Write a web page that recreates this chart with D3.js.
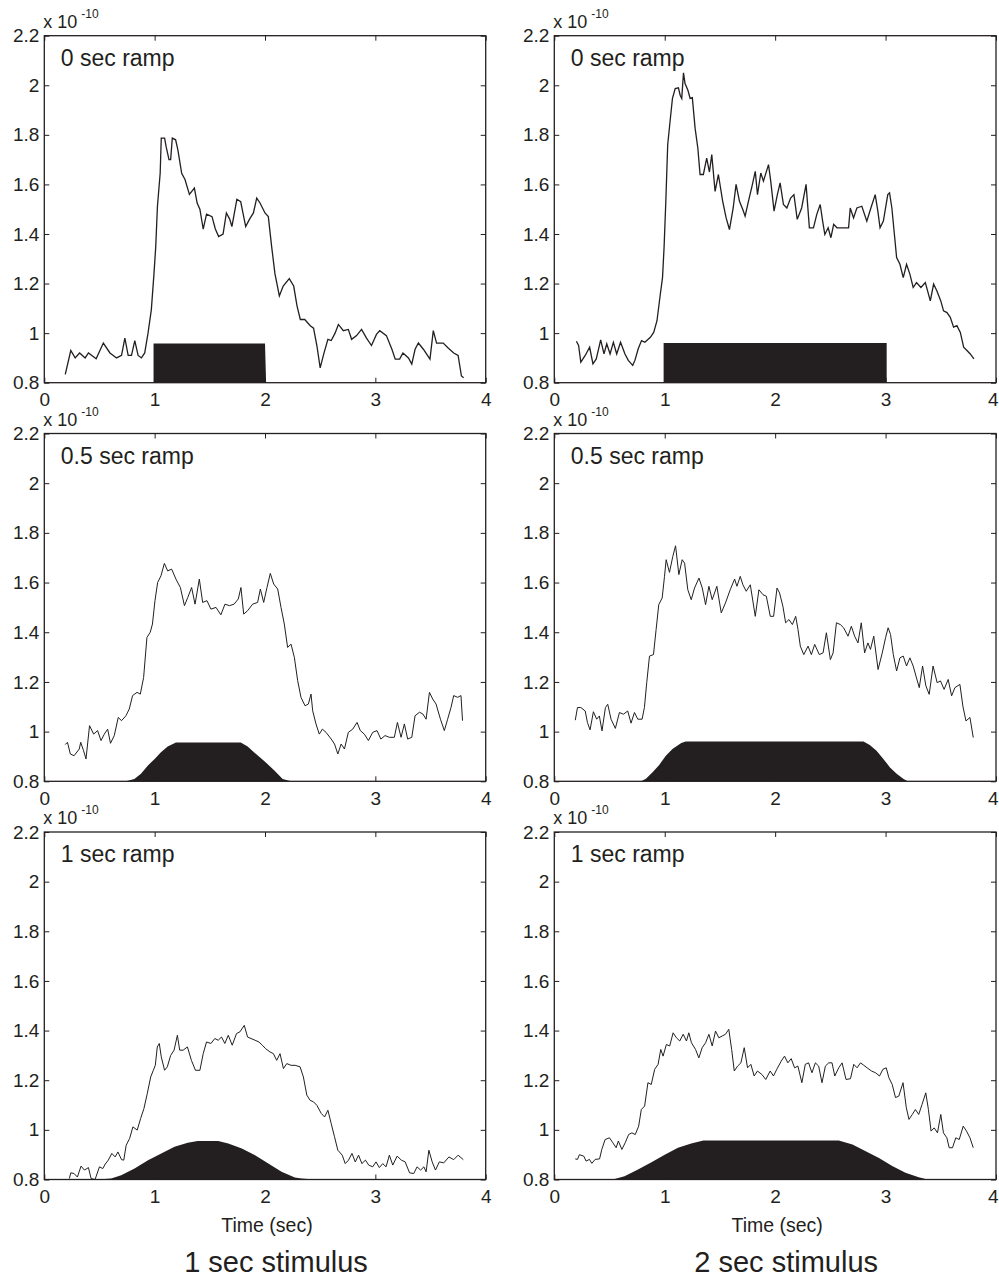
<!DOCTYPE html>
<html>
<head>
<meta charset="utf-8">
<script src="https://cdn.jsdelivr.net/npm/d3@7"></script>
<style>
  html, body { margin: 0; padding: 0; background: #ffffff; }
  svg { display: block; }
  text { font-family: "Liberation Sans", Arial, sans-serif; fill: #231f20; }
</style>
</head>
<body>
<svg id="chart" width="999" height="1279"></svg>
<script>
// ---------------- DATA ----------------
const xTicks = [0, 1, 2, 3, 4];
const xTickLabels = ["0", "1", "2", "3", "4"];
const yTicks = [0.8, 1.0, 1.2, 1.4, 1.6, 1.8, 2.0, 2.2];
const yTickLabels = ["0.8", "1", "1.2", "1.4", "1.6", "1.8", "2", "2.2"];
const scaleNote = "x 10";
const scaleExp = "-10";
const rampLabels = ["0 sec ramp", "0.5 sec ramp", "1 sec ramp"];
const columnTitles = ["1 sec stimulus", "2 sec stimulus"];
const xAxisLabel = "Time (sec)";

// response traces [time (s), value (x1e-10)]
const trace_1s_0ramp = [[0.19,0.834],[0.24,0.93],[0.28,0.90],[0.32,0.92],[0.37,0.90],[0.40,0.92],[0.47,0.897],[0.535,0.96],[0.595,0.92],[0.655,0.90],[0.70,0.91],[0.73,0.98],[0.76,0.91],[0.79,0.91],[0.82,0.97],[0.85,0.91],[0.88,0.90],[0.91,0.92],[0.94,1.0],[0.97,1.095],[0.994,1.24],[1.01,1.35],[1.025,1.51],[1.05,1.645],[1.06,1.787],[1.09,1.787],[1.105,1.75],[1.13,1.70],[1.145,1.70],[1.16,1.787],[1.19,1.78],[1.21,1.74],[1.245,1.645],[1.275,1.62],[1.315,1.56],[1.36,1.585],[1.385,1.525],[1.41,1.50],[1.44,1.42],[1.47,1.48],[1.52,1.47],[1.55,1.42],[1.58,1.39],[1.62,1.40],[1.65,1.485],[1.68,1.46],[1.70,1.43],[1.745,1.54],[1.78,1.53],[1.80,1.485],[1.825,1.43],[1.86,1.46],[1.895,1.485],[1.925,1.545],[1.955,1.525],[2.0,1.485],[2.03,1.47],[2.06,1.35],[2.09,1.24],[2.13,1.15],[2.165,1.19],[2.22,1.22],[2.26,1.19],[2.29,1.11],[2.32,1.055],[2.36,1.055],[2.41,1.03],[2.44,1.02],[2.47,0.95],[2.50,0.86],[2.535,0.92],[2.57,0.975],[2.60,0.97],[2.635,1.0],[2.665,1.035],[2.71,1.01],[2.755,1.015],[2.785,0.975],[2.83,0.99],[2.875,1.015],[2.92,0.98],[2.965,0.95],[3.01,0.995],[3.04,1.01],[3.10,0.99],[3.15,0.935],[3.18,0.895],[3.22,0.895],[3.25,0.92],[3.30,0.90],[3.33,0.875],[3.36,0.935],[3.39,0.96],[3.435,0.935],[3.495,0.895],[3.525,1.01],[3.555,0.96],[3.615,0.96],[3.66,0.94],[3.71,0.92],[3.75,0.91],[3.78,0.827],[3.80,0.82]];

const trace_2s_0ramp = [[0.20,0.967],[0.22,0.95],[0.24,0.883],[0.28,0.91],[0.32,0.943],[0.35,0.876],[0.38,0.896],[0.42,0.973],[0.45,0.916],[0.475,0.957],[0.505,0.916],[0.535,0.963],[0.565,0.916],[0.60,0.963],[0.64,0.916],[0.67,0.89],[0.71,0.87],[0.73,0.89],[0.76,0.937],[0.79,0.97],[0.82,0.963],[0.87,0.983],[0.90,1.003],[0.93,1.05],[0.96,1.157],[0.98,1.224],[0.994,1.345],[1.01,1.532],[1.027,1.76],[1.048,1.853],[1.07,1.947],[1.095,1.987],[1.124,1.99],[1.14,1.96],[1.154,1.947],[1.17,2.05],[1.184,2.007],[1.21,1.98],[1.23,1.947],[1.25,1.95],[1.275,1.827],[1.30,1.746],[1.32,1.64],[1.35,1.64],[1.38,1.706],[1.405,1.65],[1.426,1.72],[1.456,1.572],[1.486,1.64],[1.525,1.532],[1.556,1.465],[1.586,1.418],[1.62,1.505],[1.646,1.60],[1.677,1.532],[1.707,1.499],[1.728,1.472],[1.758,1.532],[1.789,1.59],[1.82,1.653],[1.84,1.559],[1.87,1.646],[1.894,1.613],[1.94,1.68],[1.96,1.613],[1.99,1.492],[2.02,1.559],[2.045,1.606],[2.075,1.519],[2.106,1.505],[2.14,1.545],[2.17,1.559],[2.20,1.459],[2.24,1.505],[2.28,1.60],[2.31,1.425],[2.347,1.425],[2.377,1.479],[2.408,1.519],[2.43,1.452],[2.45,1.398],[2.48,1.425],[2.505,1.385],[2.53,1.439],[2.56,1.425],[2.62,1.425],[2.665,1.425],[2.68,1.505],[2.71,1.465],[2.74,1.505],[2.785,1.512],[2.83,1.452],[2.867,1.505],[2.906,1.559],[2.93,1.492],[2.95,1.425],[2.98,1.452],[3.02,1.559],[3.036,1.566],[3.057,1.505],[3.08,1.398],[3.10,1.305],[3.13,1.278],[3.16,1.224],[3.19,1.278],[3.22,1.238],[3.25,1.184],[3.28,1.204],[3.32,1.184],[3.36,1.204],[3.405,1.13],[3.435,1.198],[3.465,1.17],[3.50,1.13],[3.525,1.09],[3.556,1.083],[3.586,1.064],[3.616,1.024],[3.646,1.03],[3.677,1.003],[3.707,0.943],[3.737,0.93],[3.767,0.916],[3.80,0.896]];

const trace_1s_05ramp = [[0.19,0.948],[0.21,0.957],[0.236,0.91],[0.27,0.903],[0.317,0.93],[0.33,0.957],[0.356,0.923],[0.378,0.89],[0.41,1.024],[0.447,0.99],[0.483,1.004],[0.514,0.964],[0.544,0.99],[0.574,1.01],[0.60,0.953],[0.634,0.984],[0.67,1.057],[0.70,1.044],[0.74,1.064],[0.77,1.091],[0.80,1.145],[0.84,1.158],[0.87,1.151],[0.90,1.218],[0.93,1.379],[0.96,1.40],[0.98,1.433],[1.003,1.527],[1.027,1.60],[1.057,1.627],[1.088,1.677],[1.118,1.647],[1.154,1.654],[1.193,1.614],[1.233,1.58],[1.27,1.507],[1.30,1.54],[1.335,1.58],[1.366,1.513],[1.405,1.614],[1.435,1.52],[1.474,1.527],[1.51,1.493],[1.556,1.50],[1.60,1.47],[1.637,1.513],[1.677,1.507],[1.72,1.513],[1.758,1.534],[1.782,1.58],[1.807,1.473],[1.843,1.487],[1.888,1.513],[1.933,1.52],[1.958,1.574],[1.988,1.52],[2.018,1.58],[2.048,1.637],[2.079,1.594],[2.115,1.574],[2.145,1.50],[2.175,1.433],[2.205,1.339],[2.236,1.352],[2.266,1.299],[2.296,1.205],[2.326,1.138],[2.363,1.104],[2.393,1.111],[2.417,1.151],[2.432,1.084],[2.462,1.031],[2.492,0.99],[2.52,1.01],[2.553,0.997],[2.60,0.97],[2.63,0.95],[2.66,0.91],[2.69,0.95],[2.72,0.93],[2.755,0.997],[2.795,1.01],[2.834,1.037],[2.864,1.004],[2.90,0.99],[2.937,0.964],[2.976,0.997],[3.015,1.004],[3.05,0.97],[3.088,0.984],[3.127,0.977],[3.172,0.977],[3.20,1.037],[3.233,0.977],[3.263,1.031],[3.293,0.97],[3.33,0.977],[3.36,1.064],[3.40,1.078],[3.43,1.071],[3.46,1.05],[3.49,1.158],[3.52,1.131],[3.55,1.111],[3.59,1.05],[3.625,1.004],[3.655,1.05],[3.686,1.098],[3.71,1.145],[3.746,1.138],[3.776,1.145],[3.79,1.044]];

const trace_2s_05ramp = [[0.19,1.046],[0.21,1.097],[0.24,1.097],[0.28,1.083],[0.30,1.037],[0.324,1.007],[0.354,1.08],[0.384,1.05],[0.408,1.063],[0.432,1.003],[0.463,1.097],[0.484,1.11],[0.514,1.05],[0.553,1.013],[0.59,1.077],[0.626,1.07],[0.665,1.083],[0.695,1.034],[0.726,1.077],[0.756,1.05],[0.795,1.05],[0.816,1.097],[0.837,1.197],[0.862,1.304],[0.898,1.31],[0.922,1.411],[0.946,1.511],[0.977,1.538],[0.998,1.625],[1.013,1.692],[1.043,1.641],[1.073,1.705],[1.098,1.748],[1.128,1.632],[1.158,1.692],[1.18,1.678],[1.209,1.571],[1.24,1.531],[1.27,1.578],[1.31,1.618],[1.34,1.578],[1.37,1.511],[1.40,1.585],[1.43,1.531],[1.472,1.585],[1.512,1.478],[1.55,1.518],[1.593,1.571],[1.633,1.614],[1.654,1.585],[1.684,1.625],[1.708,1.591],[1.738,1.565],[1.775,1.591],[1.82,1.464],[1.853,1.571],[1.89,1.551],[1.92,1.545],[1.956,1.464],[1.986,1.464],[2.017,1.578],[2.04,1.558],[2.07,1.505],[2.095,1.438],[2.125,1.451],[2.156,1.431],[2.186,1.464],[2.207,1.411],[2.228,1.344],[2.259,1.31],[2.298,1.344],[2.328,1.31],[2.358,1.351],[2.40,1.31],[2.434,1.317],[2.464,1.398],[2.50,1.29],[2.525,1.317],[2.555,1.438],[2.59,1.431],[2.62,1.418],[2.66,1.384],[2.69,1.424],[2.72,1.384],[2.75,1.357],[2.78,1.438],[2.81,1.317],[2.84,1.357],[2.863,1.331],[2.893,1.384],[2.932,1.25],[2.97,1.317],[3.00,1.378],[3.023,1.418],[3.045,1.391],[3.07,1.31],[3.10,1.244],[3.13,1.297],[3.16,1.304],[3.19,1.264],[3.22,1.297],[3.25,1.264],[3.275,1.224],[3.305,1.177],[3.335,1.264],[3.365,1.184],[3.395,1.15],[3.43,1.264],[3.467,1.197],[3.497,1.204],[3.53,1.17],[3.567,1.21],[3.598,1.144],[3.628,1.177],[3.673,1.19],[3.70,1.103],[3.728,1.043],[3.764,1.057],[3.794,0.976]];

const trace_1s_1ramp = [[0.227,0.804],[0.24,0.827],[0.27,0.824],[0.30,0.81],[0.333,0.854],[0.364,0.838],[0.40,0.848],[0.424,0.804],[0.46,0.80],[0.50,0.851],[0.53,0.844],[0.552,0.862],[0.58,0.878],[0.612,0.905],[0.642,0.891],[0.667,0.911],[0.70,0.88],[0.72,0.878],[0.742,0.938],[0.773,0.965],[0.803,1.012],[0.842,0.999],[0.873,1.046],[0.903,1.086],[0.933,1.146],[0.964,1.213],[0.988,1.24],[1.006,1.26],[1.024,1.334],[1.042,1.348],[1.06,1.294],[1.09,1.24],[1.115,1.254],[1.145,1.30],[1.176,1.321],[1.206,1.381],[1.227,1.321],[1.258,1.321],[1.297,1.334],[1.333,1.28],[1.37,1.24],[1.41,1.24],[1.44,1.307],[1.47,1.354],[1.51,1.348],[1.545,1.368],[1.576,1.361],[1.606,1.374],[1.636,1.348],[1.667,1.381],[1.703,1.341],[1.742,1.388],[1.773,1.395],[1.812,1.421],[1.842,1.374],[1.873,1.368],[1.91,1.361],[1.945,1.354],[1.976,1.341],[2.006,1.327],[2.045,1.314],[2.076,1.307],[2.106,1.28],[2.136,1.307],[2.167,1.247],[2.197,1.267],[2.236,1.26],[2.273,1.26],[2.318,1.254],[2.348,1.213],[2.379,1.14],[2.409,1.119],[2.439,1.113],[2.47,1.099],[2.51,1.066],[2.54,1.052],[2.57,1.079],[2.60,1.025],[2.63,0.972],[2.66,0.918],[2.70,0.898],[2.727,0.864],[2.757,0.878],[2.788,0.905],[2.818,0.871],[2.848,0.898],[2.878,0.864],[2.91,0.878],[2.94,0.858],[2.976,0.851],[3.006,0.871],[3.036,0.848],[3.067,0.864],[3.097,0.851],[3.127,0.898],[3.158,0.858],[3.197,0.894],[3.236,0.878],[3.27,0.871],[3.31,0.827],[3.348,0.824],[3.378,0.851],[3.41,0.838],[3.44,0.851],[3.46,0.831],[3.485,0.918],[3.515,0.871],[3.545,0.838],[3.58,0.871],[3.62,0.867],[3.667,0.891],[3.71,0.88],[3.75,0.898],[3.797,0.88]];

const trace_2s_1ramp = [[0.19,0.883],[0.21,0.881],[0.227,0.90],[0.267,0.894],[0.288,0.874],[0.318,0.881],[0.34,0.865],[0.37,0.881],[0.41,0.883],[0.43,0.921],[0.46,0.961],[0.50,0.968],[0.53,0.948],[0.56,0.928],[0.58,0.955],[0.612,0.921],[0.642,0.948],[0.673,0.981],[0.703,0.988],[0.733,0.981],[0.764,1.015],[0.788,1.082],[0.818,1.096],[0.848,1.19],[0.878,1.183],[0.909,1.244],[0.94,1.264],[0.964,1.324],[0.985,1.297],[1.015,1.344],[1.045,1.338],[1.076,1.391],[1.106,1.371],[1.136,1.358],[1.167,1.385],[1.197,1.358],[1.218,1.391],[1.242,1.351],[1.279,1.324],[1.309,1.29],[1.339,1.331],[1.37,1.351],[1.40,1.385],[1.43,1.338],[1.46,1.398],[1.49,1.371],[1.52,1.378],[1.55,1.385],[1.58,1.405],[1.606,1.324],[1.63,1.237],[1.66,1.257],[1.69,1.27],[1.72,1.331],[1.75,1.25],[1.78,1.264],[1.81,1.217],[1.84,1.237],[1.88,1.223],[1.915,1.203],[1.955,1.237],[1.985,1.217],[2.015,1.244],[2.055,1.277],[2.085,1.297],[2.115,1.27],[2.145,1.287],[2.176,1.25],[2.206,1.257],[2.242,1.19],[2.273,1.264],[2.303,1.27],[2.333,1.23],[2.364,1.27],[2.394,1.257],[2.424,1.19],[2.455,1.257],[2.485,1.27],[2.515,1.27],[2.54,1.217],[2.576,1.25],[2.606,1.27],[2.642,1.203],[2.682,1.206],[2.712,1.264],[2.742,1.25],[2.773,1.27],[2.803,1.26],[2.833,1.25],[2.873,1.237],[2.909,1.23],[2.945,1.217],[2.976,1.244],[3.006,1.25],[3.03,1.21],[3.06,1.183],[3.09,1.13],[3.12,1.136],[3.158,1.19],[3.188,1.089],[3.212,1.042],[3.242,1.062],[3.27,1.082],[3.30,1.062],[3.33,1.102],[3.364,1.149],[3.388,1.082],[3.412,0.995],[3.44,1.008],[3.47,0.988],[3.50,1.062],[3.524,0.988],[3.555,0.968],[3.576,0.928],[3.606,0.928],[3.636,0.968],[3.667,0.961],[3.703,1.015],[3.733,0.995],[3.764,0.968],[3.794,0.928]];

// stimulus envelopes [time (s), level]
const stim_1s_0ramp = [[0.99,0.80],[0.99,0.958],[2.0,0.958],[2.01,0.80]];
const stim_2s_0ramp = [[0.99,0.80],[0.99,0.96],[3.01,0.96],[3.01,0.80]];
const stim_1s_05ramp = [[0.74,0.80],[0.816,0.809],[0.876,0.83],[0.937,0.863],[1.0,0.89],[1.057,0.917],[1.118,0.94],[1.193,0.956],[1.78,0.956],[1.843,0.94],[1.90,0.917],[1.99,0.883],[2.085,0.843],[2.16,0.809],[2.236,0.80]];
const stim_2s_05ramp = [[0.786,0.80],[0.83,0.81],[0.89,0.836],[0.95,0.866],[1.01,0.903],[1.07,0.93],[1.15,0.954],[1.19,0.96],[2.80,0.96],[2.857,0.946],[2.918,0.923],[2.98,0.89],[3.04,0.856],[3.10,0.83],[3.16,0.81],[3.20,0.80]];
const stim_1s_1ramp = [[0.485,0.80],[0.606,0.804],[0.697,0.817],[0.818,0.844],[0.94,0.878],[1.06,0.905],[1.18,0.932],[1.30,0.948],[1.39,0.955],[1.576,0.955],[1.667,0.945],[1.79,0.925],[1.91,0.898],[2.03,0.864],[2.15,0.831],[2.27,0.808],[2.33,0.804],[2.45,0.80]];
const stim_2s_1ramp = [[0.53,0.80],[0.636,0.813],[0.758,0.84],[0.88,0.87],[1.0,0.90],[1.12,0.928],[1.24,0.945],[1.35,0.957],[2.576,0.957],[2.70,0.941],[2.82,0.914],[2.94,0.887],[3.06,0.854],[3.18,0.827],[3.30,0.809],[3.38,0.80]];

const traces = [[trace_1s_0ramp, trace_2s_0ramp], [trace_1s_05ramp, trace_2s_05ramp], [trace_1s_1ramp, trace_2s_1ramp]];
const stims  = [[stim_1s_0ramp, stim_2s_0ramp], [stim_1s_05ramp, stim_2s_05ramp], [stim_1s_1ramp, stim_2s_1ramp]];

// ---------------- LAYOUT ----------------
const INK = "#231f20";
const colBox = [{l: 44.3, r: 485.7}, {l: 554.3, r: 996}];
const rowBox = [{t: 35.7, b: 382.7}, {t: 433.5, b: 781.3}, {t: 832, b: 1179.5}];
const traceWidth = [1.3, 1.0, 1.0];

const svg = d3.select("#chart");

rowBox.forEach((rb, ri) => {
  colBox.forEach((cb, ci) => {
    const x = d3.scaleLinear().domain([0, 4]).range([cb.l, cb.r]);
    const y = d3.scaleLinear().domain([0.8, 2.2]).range([rb.b, rb.t]);
    const g = svg.append("g");

    // stimulus envelope
    g.append("path")
      .datum(stims[ri][ci])
      .attr("fill", INK)
      .attr("stroke", "none")
      .attr("d", d3.area().x(d => x(d[0])).y0(y(0.8)).y1(d => y(d[1])));

    // response trace
    g.append("path")
      .datum(traces[ri][ci])
      .attr("fill", "none")
      .attr("stroke", INK)
      .attr("stroke-width", traceWidth[ri])
      .attr("stroke-linejoin", "miter")
      .attr("d", d3.line().x(d => x(d[0])).y(d => y(d[1])));

    // axes (inward ticks on all four sides)
    const fmtX = (d) => xTickLabels[xTicks.indexOf(d)];
    const fmtY = (d) => yTickLabels[yTicks.indexOf(d)];

    const axB = g.append("g").attr("transform", `translate(0,${y(0.8)})`)
      .call(d3.axisBottom(x).tickValues(xTicks).tickFormat(fmtX).tickSizeInner(-5).tickSizeOuter(0).tickPadding(10));
    const axT = g.append("g").attr("transform", `translate(0,${y(2.2)})`)
      .call(d3.axisTop(x).tickValues(xTicks).tickFormat("").tickSizeInner(-5).tickSizeOuter(0));
    const axL = g.append("g").attr("transform", `translate(${x(0)},0)`)
      .call(d3.axisLeft(y).tickValues(yTicks).tickFormat(fmtY).tickSizeInner(-5).tickSizeOuter(0).tickPadding(5));
    const axR = g.append("g").attr("transform", `translate(${x(4)},0)`)
      .call(d3.axisRight(y).tickValues(yTicks).tickFormat("").tickSizeInner(-5).tickSizeOuter(0));

    [axB, axT, axL, axR].forEach(a => {
      a.select(".domain").remove();
      a.selectAll(".tick line").attr("stroke", INK).attr("stroke-width", 1);
      a.selectAll(".tick text")
        .attr("fill", INK)
        .style("font-family", "'Liberation Sans', Arial, sans-serif")
        .style("font-size", "19px");
    });

    // keep the last x label of the right column inside the page
    if (ci === colBox.length - 1) {
      axB.selectAll(".tick text").filter(d => d === 4)
        .attr("text-anchor", "end").attr("x", 998 - x(4));
    }

    // box
    g.append("rect")
      .attr("x", x(0)).attr("y", y(2.2))
      .attr("width", x(4) - x(0)).attr("height", y(0.8) - y(2.2))
      .attr("fill", "none").attr("stroke", INK).attr("stroke-width", 1.3);

    // exponent note
    g.append("text")
      .attr("x", x(0) - 1).attr("y", y(2.2) - 8)
      .style("font-size", "18px")
      .text(scaleNote);
    g.append("text")
      .attr("x", x(0) + 37).attr("y", y(2.2) - 18)
      .style("font-size", "12px")
      .text(scaleExp);

    // ramp label
    g.append("text")
      .attr("x", x(0) + 16.5).attr("y", y(2.2) + 30)
      .style("font-size", "23px")
      .text(rampLabels[ri]);

    // bottom labels
    if (ri === rowBox.length - 1) {
      g.append("text")
        .attr("x", (x(0) + x(4)) / 2 + 2).attr("y", 1232)
        .attr("text-anchor", "middle")
        .style("font-size", "19.5px")
        .text(xAxisLabel);
      g.append("text")
        .attr("x", (x(0) + x(4)) / 2 + 11).attr("y", 1272)
        .attr("text-anchor", "middle")
        .style("font-size", "29px")
        .text(columnTitles[ci]);
    }
  });
});
</script>
</body>
</html>
